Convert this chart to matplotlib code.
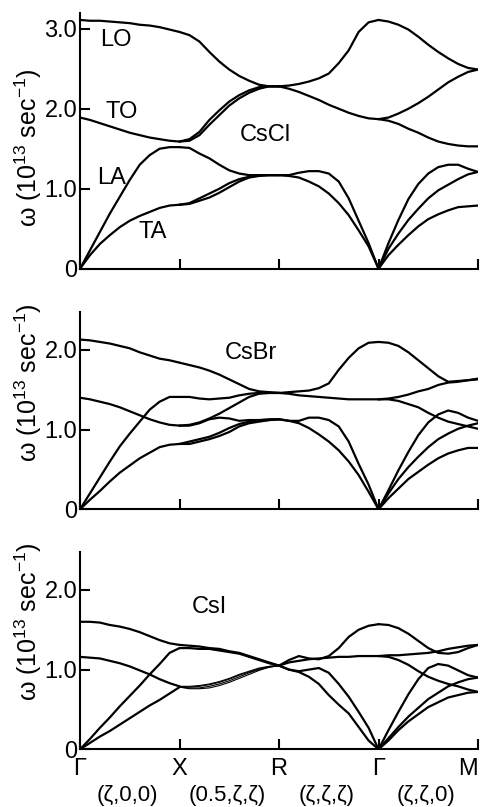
import matplotlib.pyplot as plt

plt.rcParams['font.family'] = ['Liberation Sans', 'DejaVu Sans']
plt.rcParams['mathtext.default'] = 'regular'

# steps of zeta from one symmetry point to the next (read every 0.1)
q = [0.0, 0.1, 0.2, 0.3, 0.4, 0.5, 0.6, 0.7, 0.8, 0.9, 1.0]

point_labels = ["Γ", "X", "R", "Γ", "M"]
direction_labels = ["(ζ,0,0)", "(0.5,ζ,ζ)", "(ζ,ζ,ζ)", "(ζ,ζ,0)"]

# ---- CsCl (omega in 10^13 sec^-1) ----
cscl_gx = [
    [3.11, 3.10, 3.10, 3.09, 3.08, 3.07, 3.05, 3.04, 3.02, 2.99, 2.96],  # LO
    [1.89, 1.86, 1.82, 1.78, 1.74, 1.70, 1.67, 1.64, 1.62, 1.60, 1.59],  # TO
    [0.00, 0.23, 0.46, 0.69, 0.90, 1.11, 1.30, 1.42, 1.50, 1.52, 1.52],  # LA
    [0.00, 0.17, 0.31, 0.42, 0.52, 0.60, 0.66, 0.71, 0.76, 0.79, 0.80],  # TA
]
cscl_xr = [
    [2.96, 2.92, 2.84, 2.71, 2.59, 2.49, 2.41, 2.35, 2.30, 2.28, 2.28],
    [1.59, 1.62, 1.71, 1.86, 1.98, 2.09, 2.17, 2.23, 2.27, 2.28, 2.28],
    [1.59, 1.60, 1.67, 1.80, 1.92, 2.04, 2.13, 2.20, 2.25, 2.28, 2.28],
    [1.52, 1.51, 1.44, 1.38, 1.30, 1.23, 1.19, 1.17, 1.17, 1.17, 1.17],
    [0.80, 0.82, 0.88, 0.94, 1.00, 1.07, 1.12, 1.15, 1.17, 1.17, 1.17],
    [0.80, 0.81, 0.85, 0.89, 0.95, 1.02, 1.09, 1.14, 1.16, 1.17, 1.17],
]
cscl_rg = [
    [2.28, 2.29, 2.31, 2.34, 2.38, 2.44, 2.57, 2.73, 2.96, 3.08, 3.11],
    [2.28, 2.25, 2.21, 2.16, 2.11, 2.05, 2.00, 1.95, 1.91, 1.88, 1.87],
    [1.17, 1.17, 1.20, 1.22, 1.22, 1.19, 1.09, 0.88, 0.60, 0.32, 0.00],
    [1.17, 1.16, 1.14, 1.09, 1.03, 0.94, 0.82, 0.67, 0.48, 0.28, 0.00],
]
cscl_gm = [
    [3.11, 3.09, 3.05, 2.99, 2.90, 2.80, 2.71, 2.63, 2.56, 2.51, 2.49],
    [1.87, 1.89, 1.94, 2.00, 2.07, 2.15, 2.24, 2.33, 2.40, 2.46, 2.49],
    [1.87, 1.85, 1.81, 1.75, 1.70, 1.64, 1.59, 1.56, 1.54, 1.53, 1.53],
    [0.00, 0.32, 0.61, 0.87, 1.06, 1.19, 1.27, 1.30, 1.30, 1.25, 1.21],
    [0.00, 0.25, 0.44, 0.61, 0.75, 0.88, 0.98, 1.05, 1.12, 1.18, 1.21],
    [0.00, 0.17, 0.30, 0.42, 0.53, 0.62, 0.68, 0.73, 0.77, 0.78, 0.79],
]

# ---- CsBr ----
csbr_gx = [
    [2.13, 2.12, 2.10, 2.08, 2.05, 2.02, 1.97, 1.93, 1.89, 1.87, 1.84],
    [1.40, 1.38, 1.35, 1.32, 1.28, 1.23, 1.18, 1.13, 1.09, 1.06, 1.05],
    [0.00, 0.20, 0.40, 0.60, 0.79, 0.95, 1.10, 1.25, 1.35, 1.41, 1.41],
    [0.00, 0.12, 0.23, 0.35, 0.46, 0.55, 0.64, 0.71, 0.78, 0.81, 0.82],
]
csbr_xr = [
    [1.84, 1.81, 1.78, 1.74, 1.69, 1.63, 1.57, 1.51, 1.48, 1.47, 1.46],
    [1.41, 1.41, 1.39, 1.38, 1.39, 1.40, 1.43, 1.45, 1.46, 1.46, 1.46],
    [1.05, 1.06, 1.09, 1.14, 1.20, 1.27, 1.34, 1.41, 1.45, 1.46, 1.46],
    [1.05, 1.05, 1.08, 1.13, 1.15, 1.14, 1.11, 1.12, 1.12, 1.13, 1.13],
    [0.82, 0.85, 0.88, 0.91, 0.96, 1.02, 1.07, 1.10, 1.11, 1.12, 1.13],
    [0.82, 0.82, 0.85, 0.88, 0.92, 0.97, 1.04, 1.08, 1.10, 1.12, 1.13],
]
csbr_rg = [
    [1.46, 1.47, 1.48, 1.49, 1.52, 1.58, 1.75, 1.90, 2.02, 2.09, 2.10],
    [1.46, 1.45, 1.43, 1.42, 1.41, 1.40, 1.39, 1.38, 1.38, 1.38, 1.38],
    [1.13, 1.11, 1.11, 1.15, 1.15, 1.12, 1.04, 0.85, 0.57, 0.31, 0.00],
    [1.13, 1.11, 1.08, 1.02, 0.94, 0.85, 0.74, 0.60, 0.43, 0.22, 0.00],
]
csbr_gm = [
    [2.10, 2.09, 2.05, 1.97, 1.87, 1.77, 1.67, 1.60, 1.61, 1.62, 1.64],
    [1.38, 1.39, 1.41, 1.44, 1.48, 1.51, 1.56, 1.59, 1.60, 1.62, 1.63],
    [1.38, 1.38, 1.36, 1.32, 1.28, 1.21, 1.15, 1.10, 1.07, 1.04, 1.01],
    [0.00, 0.24, 0.49, 0.72, 0.93, 1.09, 1.19, 1.24, 1.21, 1.15, 1.11],
    [0.00, 0.20, 0.38, 0.53, 0.66, 0.78, 0.88, 0.95, 1.01, 1.05, 1.08],
    [0.00, 0.14, 0.26, 0.38, 0.47, 0.56, 0.64, 0.70, 0.74, 0.77, 0.77],
]

# ---- CsI ----
csi_gx = [
    [1.60, 1.60, 1.59, 1.56, 1.54, 1.51, 1.47, 1.42, 1.37, 1.33, 1.31],
    [1.16, 1.15, 1.14, 1.11, 1.08, 1.04, 0.99, 0.94, 0.88, 0.83, 0.79],
    [0.00, 0.13, 0.27, 0.40, 0.54, 0.67, 0.80, 0.94, 1.07, 1.21, 1.27],
    [0.00, 0.08, 0.16, 0.23, 0.31, 0.39, 0.47, 0.55, 0.62, 0.70, 0.78],
]
csi_xr = [
    [1.31, 1.30, 1.29, 1.27, 1.26, 1.23, 1.21, 1.17, 1.13, 1.09, 1.05],
    [1.27, 1.27, 1.26, 1.26, 1.24, 1.22, 1.20, 1.16, 1.12, 1.08, 1.05],
]
# the four closely spaced thin lines between X and R
csi_xr_thin = [
    [0.79, 0.79, 0.80, 0.82, 0.85, 0.89, 0.94, 0.98, 1.02, 1.04, 1.05],
    [0.79, 0.78, 0.79, 0.81, 0.84, 0.88, 0.93, 0.97, 1.01, 1.04, 1.05],
    [0.78, 0.77, 0.77, 0.79, 0.82, 0.86, 0.91, 0.96, 1.00, 1.03, 1.05],
    [0.78, 0.76, 0.76, 0.77, 0.80, 0.84, 0.89, 0.94, 0.99, 1.03, 1.05],
]
csi_rg = [
    [1.05, 1.12, 1.17, 1.14, 1.13, 1.17, 1.27, 1.41, 1.50, 1.55, 1.57],
    [1.05, 1.09, 1.11, 1.13, 1.14, 1.15, 1.16, 1.16, 1.17, 1.17, 1.17],
    [1.05, 1.00, 0.98, 1.00, 1.02, 0.96, 0.82, 0.66, 0.47, 0.27, 0.00],
    [1.05, 1.00, 0.97, 0.91, 0.82, 0.68, 0.56, 0.45, 0.28, 0.11, 0.00],
]
csi_gm = [
    [1.57, 1.56, 1.52, 1.45, 1.36, 1.27, 1.21, 1.20, 1.22, 1.27, 1.31],
    [1.17, 1.18, 1.18, 1.19, 1.20, 1.21, 1.23, 1.26, 1.28, 1.30, 1.31],
    [1.17, 1.16, 1.12, 1.06, 0.98, 0.91, 0.86, 0.82, 0.79, 0.75, 0.72],
    [0.00, 0.24, 0.47, 0.69, 0.88, 1.02, 1.07, 1.05, 0.99, 0.93, 0.90],
    [0.00, 0.14, 0.28, 0.41, 0.52, 0.63, 0.71, 0.79, 0.84, 0.88, 0.90],
    [0.00, 0.11, 0.24, 0.35, 0.44, 0.53, 0.59, 0.65, 0.68, 0.71, 0.72],
]


def draw_segments(ax, segments, lw=1.6):
    for i, branches in enumerate(segments):
        if branches is None:
            continue
        xs = [i + t for t in q]
        for b in branches:
            ax.plot(xs, b, color="black", lw=lw, solid_capstyle="round",
                    solid_joinstyle="round")


def style_axis(ax, ymax, yticks, ylabels):
    ax.set_xlim(0, 4)
    ax.set_ylim(0, ymax)
    for s in ("top", "right"):
        ax.spines[s].set_visible(False)
    for s in ("left", "bottom"):
        ax.spines[s].set_linewidth(1.5)
    ax.set_xticks([0, 1, 2, 3, 4])
    ax.set_yticks(yticks)
    ax.set_yticklabels(ylabels)
    ax.tick_params(direction="in", length=7, width=1.5, labelsize=17, pad=2)
    ax.tick_params(axis="x", labelbottom=False)


fig = plt.figure(figsize=(4.8, 8.07), dpi=100)

ax1 = fig.add_axes([0.1667, 0.667, 0.8292, 0.3172])
ax2 = fig.add_axes([0.1667, 0.3689, 0.8292, 0.2449])
ax3 = fig.add_axes([0.1667, 0.0715, 0.8292, 0.2449])

draw_segments(ax1, [cscl_gx, cscl_xr, cscl_rg, cscl_gm])
draw_segments(ax2, [csbr_gx, csbr_xr, csbr_rg, csbr_gm])
draw_segments(ax3, [csi_gx, csi_xr, csi_rg, csi_gm])
draw_segments(ax3, [None, csi_xr_thin], lw=0.8)

style_axis(ax1, 3.2, [0, 1, 2, 3], ["0", "1.0", "2.0", "3.0"])
style_axis(ax2, 2.48, [0, 1, 2], ["0", "1.0", "2.0"])
style_axis(ax3, 2.48, [0, 1, 2], ["0", "1.0", "2.0"])

# branch names and compound names
ax1.text(0.36, 2.86, "LO", fontsize=17, ha="center", va="center")
ax1.text(0.42, 1.96, "TO", fontsize=17, ha="center", va="center")
ax1.text(0.32, 1.13, "LA", fontsize=17, ha="center", va="center")
ax1.text(0.73, 0.46, "TA", fontsize=17, ha="center", va="center")
ax1.text(1.86, 1.67, "CsCl", fontsize=17, ha="center", va="center")
ax2.text(1.72, 1.96, "CsBr", fontsize=17, ha="center", va="center")
ax3.text(1.30, 1.79, "CsI", fontsize=17, ha="center", va="center")

# symmetry points under the last panel
ax3.tick_params(axis="x", labelbottom=True, labelsize=17, pad=6)
ax3.set_xticklabels(point_labels)
ax3.get_xticklabels()[-1].set_ha("right")  # M sits at the right edge
for i, lab in enumerate(direction_labels):
    ax3.text(i + 0.48, -0.235, lab, fontsize=16, ha="center", va="center",
             transform=ax3.get_xaxis_transform())

# y labels, placed like in the original
ylab = "ω (10$^{13}$ sec$^{-1}$)"
for yc in (148, 383, 622):
    fig.text(28 / 480, 1 - yc / 807, ylab, rotation=90, fontsize=18,
             ha="center", va="center")

fig.savefig("out.png", dpi=100)
